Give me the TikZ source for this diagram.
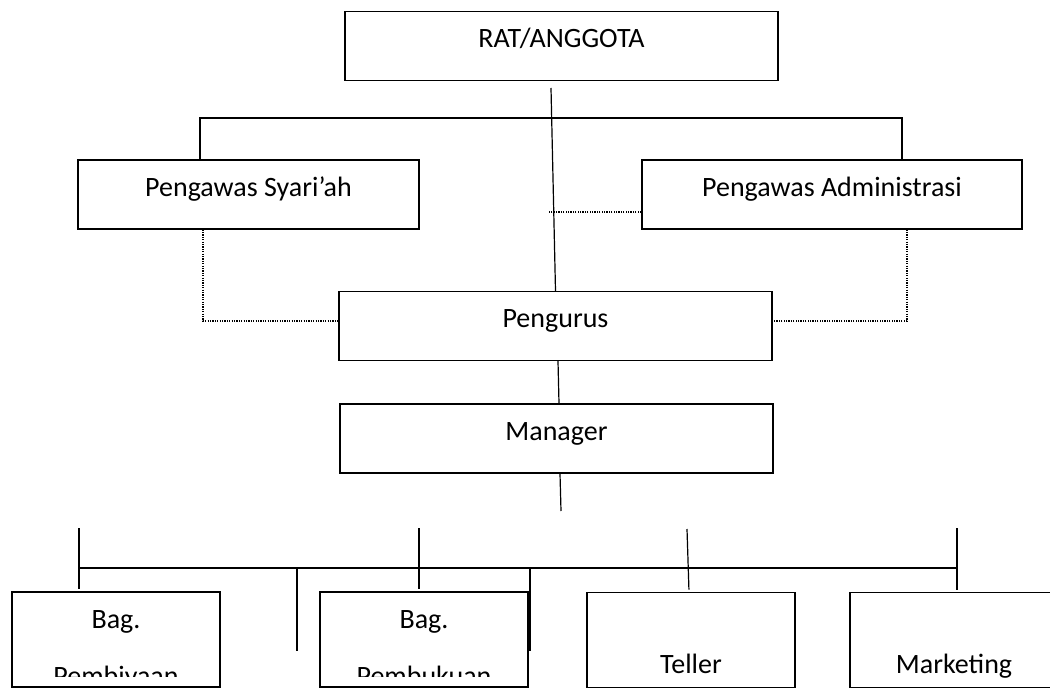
\documentclass[tikz,border=0pt]{standalone}
\usepackage{fontspec}
\setmainfont{Carlito}
\usepackage{trimclip}
\usetikzlibrary{calc}

% dua baris teks, baris kedua terpotong oleh tepi kotak
\newcommand{\duabaris}[2]{\vtop{\baselineskip=43pt\halign{\hfil##\hfil\cr#1\cr#2\cr}}}
\newcommand{\terpotong}[1]{\raisebox{6.4pt}{\clipbox{0pt 6.4pt 0pt 0pt}{\raisebox{0pt}[\height][0pt]{#1}}}}

\begin{document}
\begin{tikzpicture}[x=0.75pt, y=-0.75pt,
    kotak/.style={draw, line width=1.2pt, inner sep=0pt, text height=27pt, text depth=24.5pt,
        font=\fontsize{21pt}{25pt}\selectfont},
    kotakbawah/.style={kotak, minimum width=156pt, text height=27pt, text depth=44.25pt},
    kotakbawah2/.style={kotak, minimum width=156pt, text height=60.75pt, text depth=10.5pt},
    garis/.style={line width=0.9pt},
    titik/.style={line width=0.9pt, dash pattern=on 0.9pt off 0.9pt}]

    \useasboundingbox (0,0) rectangle (1050,688);

    % =================================================================
    % 1. KOTAK-KOTAK JABATAN
    % =================================================================
    \node[kotak, minimum width=324.75pt] (rat) at (561.5,46) {RAT/ANGGOTA};
    \node[kotak, minimum width=255.75pt] (syariah) at (248.5,194.5) {Pengawas Syari’ah};
    \node[kotak, minimum width=285pt] (admin) at (832,194.5) {Pengawas Administrasi};
    \node[kotak, minimum width=324.75pt] (pengurus) at (555.5,326) {Pengurus};
    \node[kotak, minimum width=324.75pt] (manager) at (556.5,438.5) {Manager};

    \node[kotakbawah] (pembiyaan) at (116,639.5) {\duabaris{Bag.}{\terpotong{Pembiyaan}}};
    \node[kotakbawah] (pembukuan) at (424,639.5) {\duabaris{Bag.}{\terpotong{Pembukuan}}};
    \node[kotakbawah2] (teller) at (691,640) {Teller};
    \node[kotakbawah2] (marketing) at (954,640) {Marketing};

    % =================================================================
    % 2. GARIS BAGIAN ATAS
    % =================================================================
    \coordinate (ujungrat) at (551,88);
    \draw[garis] (ujungrat) -- (pengurus.north);

    \coordinate (palangkiri) at (200,118);
    \coordinate (palangkanan) at (902,118);
    \draw[garis] (syariah.north -| palangkiri) -- (palangkiri) -- (palangkanan) -- (admin.north -| palangkanan);

    % garis putus-putus (koordinasi)
    \coordinate (titikkiri) at (203,321);
    \coordinate (titikkanan) at (907,321);
    \coordinate (titikadmin) at (548,212);
    \draw[titik] (syariah.south -| titikkiri) -- (titikkiri) -- (pengurus.west |- titikkiri);
    \draw[titik] (admin.south -| titikkanan) -- (titikkanan) -- (pengurus.east |- titikkanan);
    \draw[titik] (admin.west |- titikadmin) -- (titikadmin);

    \draw[garis] ($(pengurus.south)+(2.5,0)$) -- ($(manager.north)+(2.5,0)$);
    \coordinate (ujungmanager) at (561,511);
    \draw[garis] ($(manager.south)+(3.5,0)$) -- (ujungmanager);

    % =================================================================
    % 3. GARIS BAGIAN BAWAH
    % =================================================================
    \coordinate (bawahkiri) at (79,568);
    \coordinate (bawahkanan) at (957,568);
    \draw[garis] (bawahkiri) -- (bawahkanan);

    \foreach \nama/\x in {pembiyaan/79, pembukuan/419, marketing/957} {
        \coordinate (tiang\nama) at (\x,528);
        \draw[garis, shorten >=1.5pt] (tiang\nama) -- (\nama.north -| tiang\nama);
    }
    \coordinate (tiangteller) at (687,529);
    \draw[garis, shorten >=1.5pt] (tiangteller) -- ([xshift=-1.5pt]teller.north);

    \coordinate (gantungkiri) at (297,651);
    \coordinate (gantungkanan) at (530,651);
    \draw[garis] (bawahkiri -| gantungkiri) -- (gantungkiri);
    \draw[garis] (bawahkiri -| gantungkanan) -- (gantungkanan);

\end{tikzpicture}
\end{document}
